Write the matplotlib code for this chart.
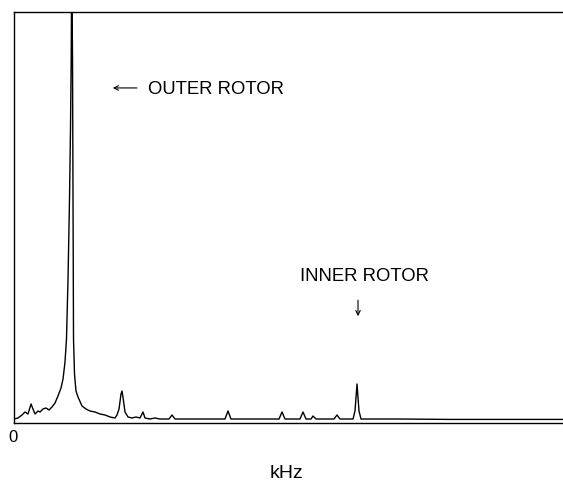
import matplotlib
matplotlib.use("Agg")
import matplotlib.pyplot as plt

# Spectrum (frequency in kHz, arbitrary amplitude units)
freq = [0.000, 0.073, 0.146, 0.200, 0.255, 0.310, 0.346, 0.383, 0.437, 0.474,
        0.528, 0.583, 0.638, 0.692, 0.747, 0.801, 0.856, 0.893, 0.929, 0.956,
        0.984, 1.011, 1.029, 1.042, 1.051, 1.066, 1.075, 1.084, 1.102, 1.129,
        1.166, 1.239, 1.311, 1.384, 1.475, 1.566, 1.658, 1.749, 1.840, 1.876,
        1.913, 1.949, 1.967, 1.985, 2.022, 2.077, 2.149, 2.222, 2.295, 2.350,
        2.386, 2.477, 2.568, 2.659, 2.823, 2.878, 2.933, 3.300, 3.843, 3.898,
        3.952, 4.400, 4.827, 4.882, 4.936, 5.209, 5.264, 5.319, 5.410, 5.446,
        5.501, 5.829, 5.883, 5.938, 6.175, 6.211, 6.248, 6.284, 6.321, 7.031,
        7.942, 8.852, 10.000]
amp = [0.85, 1.10, 1.83, 2.56, 2.07, 4.51, 3.29, 2.07, 2.80, 2.56,
       3.29, 3.53, 3.05, 3.78, 4.75, 6.46, 8.40, 10.60, 14.74, 20.34,
       34.96, 54.45, 71.50, 88.56, 110.5, 88.56, 54.45, 20.34, 11.81, 7.67,
       6.21, 4.02, 3.29, 2.80, 2.56, 2.07, 1.83, 1.34, 1.10, 1.83,
       3.29, 6.94, 7.67, 6.21, 2.56, 1.34, 1.10, 1.34, 1.10, 2.56,
       1.10, 0.85, 1.10, 0.85, 0.85, 1.83, 0.85, 0.85, 0.85, 2.80,
       0.85, 0.85, 0.85, 2.56, 0.85, 0.85, 2.56, 0.85, 0.85, 1.58,
       0.85, 0.85, 1.83, 0.85, 0.85, 2.80, 9.38, 2.80, 0.85, 0.85,
       0.75, 0.75, 0.75]

outer_label = "OUTER ROTOR"
inner_label = "INNER ROTOR"
x_label = "kHz"
zero_label = "0"

plt.rcParams['font.family'] = ['Liberation Sans', 'DejaVu Sans']

fig = plt.figure(figsize=(5.63, 4.81), dpi=100)
ax = fig.add_axes([14 / 563, (481 - 423.5) / 481, 1 - 14 / 563, (423.5 - 13) / 481])

ax.plot(freq, amp, color='black', lw=1.0, solid_joinstyle='round')
ax.set_xlim(0, 10)
ax.set_ylim(0, 100)
ax.set_xticks([])
ax.set_yticks([])
ax.spines['right'].set_visible(False)
for s in ('left', 'top', 'bottom'):
    ax.spines[s].set_linewidth(1.0)

# Outer rotor annotation
ax.annotate('', xy=(1.80, 81.5), xytext=(2.24, 81.5),
            arrowprops=dict(arrowstyle='->', lw=0.8, color='black',
                            mutation_scale=8, shrinkA=0, shrinkB=0))
ax.text(2.44, 81.4, outer_label, fontsize=13.3, ha='left', va='center')

# Inner rotor annotation
ax.text(6.39, 35.9, inner_label, fontsize=13.3, ha='center', va='center')
ax.annotate('', xy=(6.266, 25.9), xytext=(6.266, 29.8),
            arrowprops=dict(arrowstyle='->', lw=0.8, color='black',
                            mutation_scale=8, shrinkA=0, shrinkB=0))

ax.text(-0.02, -3.3, zero_label, fontsize=12, ha='center', va='center', clip_on=False)
ax.text(4.955, -12.2, x_label, fontsize=14, ha='center', va='center', clip_on=False)

fig.savefig('out.png', dpi=100)
